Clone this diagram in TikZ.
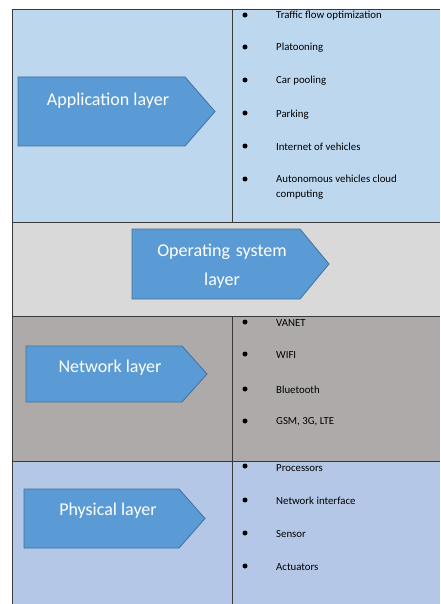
\documentclass[tikz,border=0pt]{standalone}
\usepackage{fontspec}
\setmainfont{Carlito}
\definecolor{rowA}{HTML}{BDD7EE}
\definecolor{rowB}{HTML}{D9D9D9}
\definecolor{rowC}{HTML}{AEAAAA}
\definecolor{rowD}{HTML}{B4C7E7}
\definecolor{arrfill}{HTML}{5B9BD5}
\definecolor{arredge}{HTML}{41719C}
\definecolor{gridline}{HTML}{3A3A3A}
\tikzset{
  chev/.style={fill=arrfill, draw=arredge, line width=0.8pt},
  chevtext/.style={text=white, font=\fontsize{18}{29}\selectfont, align=center, inner sep=0pt},
  item/.style={anchor=west, font=\fontsize{10.8}{15}\selectfont, inner sep=0pt, align=left, text=black},
  dot/.style={circle, fill=black, inner sep=0pt, minimum size=5pt},
  rule/.style={draw=gridline, line width=0.9pt}
}
\newcommand{\chevron}[5]{% x1, x2 (point start), x3 (tip), ytop, ybot
  \fill[chev] (#1,#4) -- (#2,#4) -- (#3,{(#4+#5)/2}) -- (#2,#5) -- (#1,#5) -- cycle;
}
\begin{document}
\begin{tikzpicture}[x=1pt,y=-1pt]
\useasboundingbox (0,0) rectangle (440,604);
% row fills
\fill[rowA] (12,9) rectangle (440,222);
\fill[rowB] (12,222) rectangle (440,316);
\fill[rowC] (12,316) rectangle (440,461);
\fill[rowD] (12,461) rectangle (440,604);
% grid lines
\draw[rule] (440,9) -- (12,9) -- (12,604);
\draw[rule] (12,222) -- (440,222);
\draw[rule] (12,316) -- (440,316);
\draw[rule] (12,461) -- (440,461);
\draw[rule] (232,9) -- (232,222);
\draw[rule] (232,316) -- (232,604);
% chevrons
\chevron{18}{185}{215}{77}{146}
\node[chevtext] (app) at (108,101) {Application layer};
\chevron{132}{300}{329}{229}{299}
\node[chevtext, text width=180pt] (os) at (222,266) {Operating system\\layer};
\chevron{26}{182}{207}{346}{402}
\node[chevtext] (net) at (110,368) {Network layer};
\chevron{24}{179}{205}{489}{548}
\node[chevtext] (phy) at (108,511) {Physical layer};
% application items
\node[dot] (b1) at (245,15) {}; \node[item] (i1) at (276,16) {Traffic flow optimization};
\node[dot] (b2) at (245,47) {}; \node[item] (i2) at (276,48) {Platooning};
\node[dot] (b3) at (245,80) {}; \node[item] (i3) at (276,81) {Car pooling};
\node[dot] (b4) at (245,113) {}; \node[item] (i4) at (276,115) {Parking};
\node[dot] (b5) at (245,146) {}; \node[item] (i5) at (276,147) {Internet of vehicles};
\node[dot] (b6) at (245,179) {}; \node[item] (i6) at (276,187.5) {Autonomous vehicles cloud\\computing};
% network items
\node[dot] (b7) at (245,322) {}; \node[item] (i7) at (276,323) {VANET};
\node[dot] (b8) at (245,354) {}; \node[item] (i8) at (276,355) {WIFI};
\node[dot] (b9) at (245,389) {}; \node[item] (i9) at (276,390) {Bluetooth};
\node[dot] (b10) at (245,421) {}; \node[item] (i10) at (276,422) {GSM, 3G, LTE};
% physical items
\node[dot] (b11) at (245,466) {}; \node[item] (i11) at (276,468) {Processors};
\node[dot] (b12) at (245,500) {}; \node[item] (i12) at (276,501) {Network interface};
\node[dot] (b13) at (245,533) {}; \node[item] (i13) at (276,534) {Sensor};
\node[dot] (b14) at (245,566) {}; \node[item] (i14) at (276,567) {Actuators};
\end{tikzpicture}
\end{document}
